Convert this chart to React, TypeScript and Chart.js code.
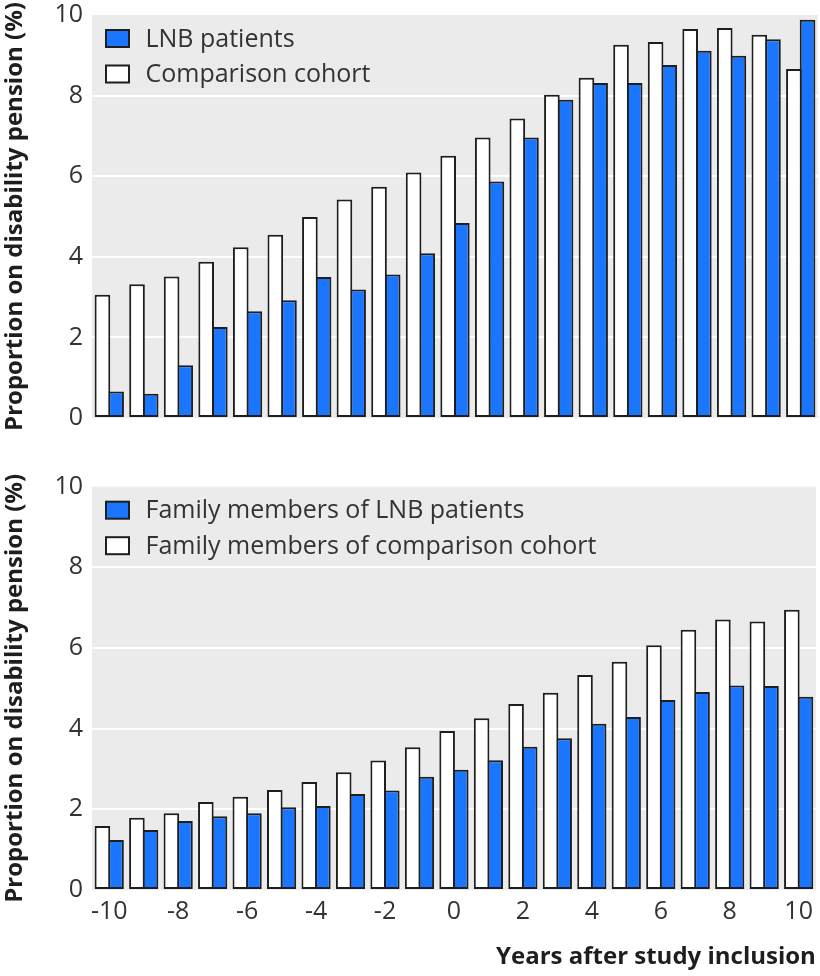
import React, { useEffect, useRef } from 'react';
import { Chart, registerables } from 'chart.js';

Chart.register(...registerables);

// ---- Data ----
const years = ['-10', '-9', '-8', '-7', '-6', '-5', '-4', '-3', '-2', '-1', '0', '1', '2', '3', '4', '5', '6', '7', '8', '9', '10'];
const comparisonCohort = [3.06, 3.32, 3.51, 3.88, 4.24, 4.55, 4.99, 5.42, 5.74, 6.09, 6.51, 6.96, 7.43, 8.02, 8.44, 9.26, 9.33, 9.65, 9.68, 9.51, 8.66];
const lnbPatients = [0.66, 0.6, 1.31, 2.26, 2.65, 2.92, 3.5, 3.19, 3.56, 4.09, 4.84, 5.87, 6.96, 7.9, 8.31, 8.31, 8.76, 9.11, 8.99, 9.4, 9.88];
const familyComparison = [1.59, 1.79, 1.9, 2.18, 2.31, 2.48, 2.68, 2.92, 3.21, 3.54, 3.94, 4.26, 4.61, 4.89, 5.33, 5.66, 6.07, 6.45, 6.71, 6.66, 6.95];
const familyLnb = [1.24, 1.49, 1.71, 1.83, 1.9, 2.05, 2.08, 2.38, 2.47, 2.81, 2.98, 3.22, 3.55, 3.76, 4.12, 4.29, 4.71, 4.91, 5.07, 5.06, 4.79];
const xTickLabels = ['-10', '-8', '-6', '-4', '-2', '0', '2', '4', '6', '8', '10'];
const yMin = 0;
const yMax = 10;
const yStep = 2;

const yTitle = 'Proportion on disability pension (%)';
const xTitle = 'Years after study inclusion';

const BLUE = '#1a75ff';
const WHITE = '#ffffff';
const BORDER = '#1e1e1e';
const PANEL_BG = '#ebebeb';
const TEXT = '#333333';
const FONT = '"Open Sans", "DejaVu Sans", sans-serif';

const panelBg = {
  id: 'panelBg',
  beforeDraw(chart: any) {
    const { ctx, chartArea } = chart;
    ctx.save();
    ctx.fillStyle = PANEL_BG;
    ctx.fillRect(chartArea.left, chartArea.top, chartArea.right - chartArea.left, chartArea.bottom - chartArea.top);
    ctx.restore();
  },
};

const insideLegend = {
  id: 'insideLegend',
  afterDatasetsDraw(chart: any) {
    const { ctx, chartArea } = chart;
    const items = [...chart.data.datasets].reverse();
    ctx.save();
    items.forEach((ds: any, i: number) => {
      const cy = chartArea.top + 23.5 + i * 35.5;
      const bx = chartArea.left + 14;
      ctx.fillStyle = ds.backgroundColor;
      ctx.fillRect(bx, cy - 8.5, 23, 17);
      ctx.lineWidth = 2;
      ctx.strokeStyle = BORDER;
      ctx.strokeRect(bx, cy - 8.5, 23, 17);
      ctx.fillStyle = TEXT;
      ctx.font = `25px ${FONT}`;
      ctx.textBaseline = 'middle';
      ctx.textAlign = 'left';
      ctx.fillText(ds.label, chartArea.left + 53.5, cy + 1);
    });
    ctx.restore();
  },
};

function makeConfig(whiteLabel: string, whiteData: number[], blueLabel: string, blueData: number[], bottom: boolean): any {
  const barCommon = {
    borderColor: BORDER,
    borderWidth: 2,
    borderSkipped: false,
    categoryPercentage: 0.79,
    barPercentage: 1.145,
  };
  return {
    type: 'bar',
    data: {
      labels: years,
      datasets: [
        { label: whiteLabel, data: whiteData, backgroundColor: WHITE, ...barCommon },
        { label: blueLabel, data: blueData, backgroundColor: BLUE, ...barCommon },
      ],
    },
    options: {
      animation: false,
      responsive: false,
      devicePixelRatio: 1,
      layout: {
        padding: bottom ? { top: 44.7, right: 2, bottom: 0, left: 0 } : { top: 24, right: 2, bottom: 24, left: 0 },
      },
      plugins: {
        legend: { display: false },
        tooltip: { enabled: false },
      },
      scales: {
        x: {
          display: bottom,
          grid: { display: false, drawTicks: false },
          border: { display: false },
          ticks: {
            autoSkip: false,
            maxRotation: 0,
            color: TEXT,
            font: { family: FONT, size: 25 },
            padding: 7,
            callback: (_v: any, i: number) => (xTickLabels.includes(years[i]) ? years[i] : ''),
          },
          title: {
            display: bottom,
            text: xTitle,
            align: 'end',
            color: BORDER,
            font: { family: FONT, size: 24, weight: 'bold' },
            padding: { top: 0, bottom: 4 },
          },
          afterFit: (scale: any) => {
            if (bottom) scale.height = 86;
          },
        },
        y: {
          min: yMin,
          max: yMax,
          grid: {
            color: (c: any) => (c.tick && (c.tick.value === yMin || c.tick.value === yMax) ? 'rgba(0,0,0,0)' : '#ffffff'),
            lineWidth: 2,
            drawTicks: false,
          },
          border: { display: false },
          ticks: {
            stepSize: yStep,
            color: TEXT,
            font: { family: FONT, size: 25 },
            padding: 9,
          },
          title: {
            display: true,
            text: yTitle,
            color: BORDER,
            font: { family: FONT, size: 24, weight: 'bold' },
            padding: { top: 1, bottom: 0 },
          },
          afterFit: (scale: any) => {
            scale.width = 92;
          },
        },
      },
    },
    plugins: [panelBg, insideLegend],
  };
}

export default function App() {
  const topRef = useRef<HTMLCanvasElement>(null);
  const bottomRef = useRef<HTMLCanvasElement>(null);

  useEffect(() => {
    document.body.style.margin = '0';
    const c1 = new Chart(topRef.current as HTMLCanvasElement, makeConfig('Comparison cohort', comparisonCohort, 'LNB patients', lnbPatients, false));
    const c2 = new Chart(
      bottomRef.current as HTMLCanvasElement,
      makeConfig('Family members of comparison cohort', familyComparison, 'Family members of LNB patients', familyLnb, true)
    );
    return () => {
      c1.destroy();
      c2.destroy();
    };
  }, []);

  return (
    <div style={{ position: 'absolute', left: 0, top: 0, width: 820, height: 976, background: '#ffffff', overflow: 'hidden' }}>
      <canvas
        ref={topRef}
        width={820}
        height={451}
        style={{ position: 'absolute', left: 0, top: -9, display: 'block', width: 820, height: 451 }}
      />
      <canvas
        ref={bottomRef}
        width={820}
        height={534}
        style={{ position: 'absolute', left: 0, top: 442, display: 'block', width: 820, height: 534 }}
      />
    </div>
  );
}
